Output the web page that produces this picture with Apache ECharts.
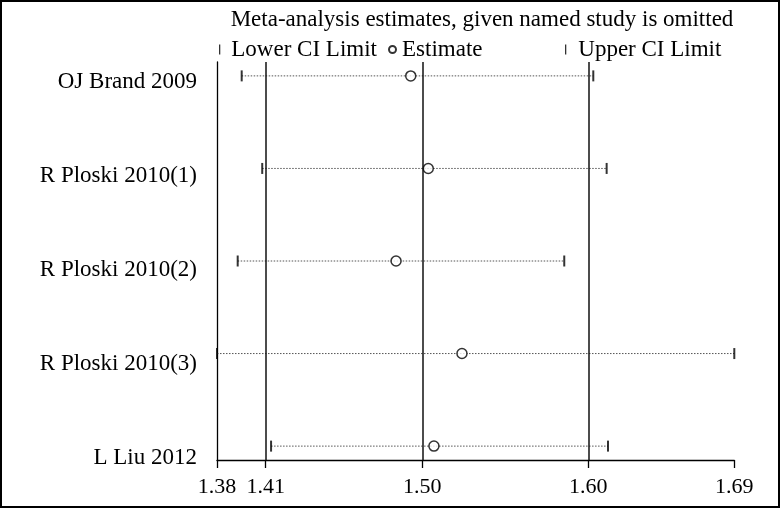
<!DOCTYPE html>
<html>
<head>
<meta charset="utf-8">
<script src="https://cdn.jsdelivr.net/npm/echarts@6/dist/echarts.min.js"></script>
<style>html,body{margin:0;padding:0;background:#fff}#c{width:781px;height:510px}</style>
</head>
<body>
<div id="c"></div>
<script>
// ---- data ----
const studies = ['OJ Brand 2009', 'R Ploski 2010(1)', 'R Ploski 2010(2)', 'R Ploski 2010(3)', 'L Liu 2012'];
const lowerCI  = [1.3948, 1.4071, 1.3924, 1.3800, 1.4124];
const estimate = [1.4961, 1.5066, 1.4873, 1.5268, 1.5100];
const upperCI  = [1.6055, 1.6135, 1.5881, 1.6900, 1.6143];
const overall  = [1.4092, 1.5030, 1.6025];           // overall lower CI, estimate, upper CI
const tickValues = [1.3800, 1.4092, 1.5030, 1.6025, 1.6900];
const tickLabels = ['1.38', '1.41', '1.50', '1.60', '1.69'];
const titleText = 'Meta-analysis estimates, given named study is omitted';

const FONT = "'Liberation Serif','Times New Roman',serif";
const rowIdx = studies.map((_, i) => i + 1);

const chart = echarts.init(document.getElementById('c'), null, {renderer: 'canvas'});
chart.setOption({
  animation: false,
  backgroundColor: '#fff',
  textStyle: {fontFamily: FONT, color: '#000'},
  title: {
    text: titleText, left: 477, textAlign: 'center', top: 3,
    textStyle: {fontFamily: FONT, fontSize: 23, fontWeight: 'normal', color: '#000'}
  },
  legend: [
    {data: ['Lower CI Limit'], left: 214, top: 33, icon: 'rect', itemWidth: 1.3, itemHeight: 10,
     textStyle: {fontFamily: FONT, fontSize: 23, color: '#000', padding: [0, 0, 0, 6]}},
    {data: ['Estimate'], left: 383, top: 33, itemWidth: 7, itemHeight: 7,
     textStyle: {fontFamily: FONT, fontSize: 23, color: '#000', padding: [0, 0, 0, 1]}},
    {data: ['Upper CI Limit'], left: 560, top: 33, icon: 'rect', itemWidth: 1.3, itemHeight: 10,
     textStyle: {fontFamily: FONT, fontSize: 23, color: '#000', padding: [0, 0, 0, 7]}}
  ],
  grid: {left: 217, right: 46.7, top: 62, bottom: 50},
  xAxis: {
    type: 'value', min: 1.38, max: 1.69,
    axisLine: {onZero: false, lineStyle: {color: '#000', width: 1.3}},
    axisTick: {length: 8, customValues: tickValues, lineStyle: {color: '#000', width: 1.3}},
    axisLabel: {
      customValues: tickValues, margin: 16, fontSize: 22, fontFamily: FONT, color: '#000',
      showMinLabel: true, showMaxLabel: true,
      formatter: v => {
        const i = tickValues.findIndex(t => Math.abs(t - v) < 1e-6);
        return i >= 0 ? tickLabels[i] : '';
      }
    },
    splitLine: {show: false}
  },
  yAxis: [
    {
      type: 'value', min: 0.85, max: 5.15, inverse: true,
      axisLine: {show: true, onZero: false, lineStyle: {color: '#000', width: 1.3}},
      axisTick: {show: false}, axisLabel: {show: false}, splitLine: {show: false}
    },
    {
      type: 'value', min: 0.79, max: 5.02, inverse: true, position: 'left', offset: 0,
      axisLine: {show: false}, axisTick: {show: false}, splitLine: {show: false},
      axisLabel: {
        customValues: rowIdx, margin: 20, fontSize: 23, fontFamily: FONT, color: '#000',
        formatter: v => studies[Math.round(v) - 1] || ''
      }
    }
  ],
  series: [
    {
      type: 'custom', name: 'CI', yAxisIndex: 0, z: 1,
      data: studies.map((s, i) => [lowerCI[i], upperCI[i], i + 1]),
      encode: {x: [0, 1], y: 2},
      renderItem: (params, api) => {
        const a = api.coord([api.value(0), api.value(2)]);
        const b = api.coord([api.value(1), api.value(2)]);
        return {type: 'line', shape: {x1: a[0], y1: a[1], x2: b[0], y2: b[1]},
                style: {stroke: '#555', lineWidth: 1, lineDash: [1.5, 1.5]}};
      },
      markLine: {
        silent: true, symbol: 'none', label: {show: false}, precision: 4,
        lineStyle: {color: '#111', width: 1.5, type: 'solid'},
        data: overall.map(v => ({xAxis: v}))
      }
    },
    {
      type: 'scatter', name: 'Lower CI Limit', yAxisIndex: 0, z: 3,
      symbol: 'rect', symbolSize: [2, 11],
      itemStyle: {color: '#000'},
      data: lowerCI.map((v, i) => [v, i + 1])
    },
    {
      type: 'scatter', name: 'Upper CI Limit', yAxisIndex: 0, z: 3,
      symbol: 'rect', symbolSize: [2, 11],
      itemStyle: {color: '#000'},
      data: upperCI.map((v, i) => [v, i + 1])
    },
    {
      type: 'scatter', name: 'Estimate', yAxisIndex: 0, z: 4,
      symbol: 'circle', symbolSize: 10,
      itemStyle: {color: '#fff', borderColor: '#000', borderWidth: 1.5},
      data: estimate.map((v, i) => [v, i + 1])
    }
  ],
  graphic: [
    {type: 'rect', silent: true, z: 100,
     shape: {x: 1, y: 1, width: 778, height: 506},
     style: {fill: 'none', stroke: '#000', lineWidth: 2}}
  ]
});
</script>
</body>
</html>
